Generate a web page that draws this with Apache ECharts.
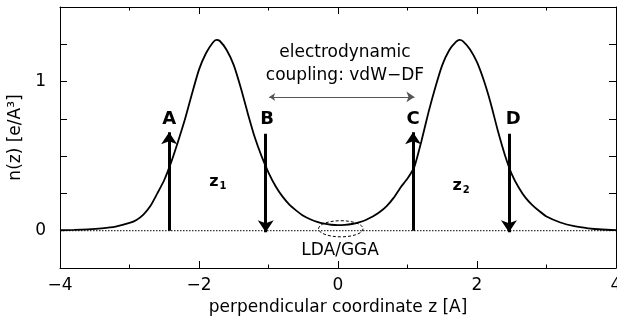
<!DOCTYPE html>
<html><head><meta charset="utf-8">
<script src="https://cdn.jsdelivr.net/npm/echarts@6/dist/echarts.min.js"></script>
<style>html,body{margin:0;padding:0;background:#fff}#c{width:617px;height:320px}</style>
</head><body><div id="c"></div>
<script>
// density profile n(z)
const zValues = [-4.0,-3.8,-3.6,-3.4,-3.2,-3.0,-2.9,-2.8,-2.7,-2.6,-2.5,-2.4,-2.3,-2.2,-2.1,-2.0,-1.9,-1.8,-1.75,-1.7,-1.6,-1.5,-1.4,-1.3,-1.2,-1.1,-1.0,-0.9,-0.8,-0.7,-0.6,-0.5,-0.4,-0.3,-0.2,-0.1,0,
  0.1,0.2,0.3,0.4,0.5,0.6,0.7,0.8,0.9,1.0,1.1,1.2,1.3,1.4,1.5,1.6,1.7,1.75,1.8,1.9,2.0,2.1,2.2,2.3,2.4,2.5,2.6,2.7,2.8,2.9,3.0,3.2,3.4,3.6,3.8,4.0];
const nValues = [0.003,0.005,0.009,0.016,0.028,0.052,0.072,0.108,0.165,0.25,0.34,0.46,0.60,0.75,0.92,1.08,1.19,1.262,1.28,1.272,1.21,1.11,0.96,0.79,0.63,0.50,0.39,0.30,0.23,0.175,0.135,0.10,0.077,0.059,0.047,0.040,0.037,
  0.039,0.045,0.056,0.072,0.095,0.125,0.165,0.22,0.29,0.35,0.43,0.60,0.79,0.96,1.11,1.21,1.268,1.28,1.27,1.215,1.13,1.005,0.85,0.67,0.51,0.38,0.29,0.22,0.17,0.13,0.095,0.055,0.03,0.016,0.008,0.004];
const baseline = [[-4, 0], [4, 0]];

// vertical arrows A-D
const arrowNames = ['A', 'B', 'C', 'D'];
const arrowZ = [-2.43, -1.04, 1.08, 2.46];
const arrowFrom = [0, 0.65, 0, 0.65];
const arrowTo = [0.66, -0.01, 0.66, -0.01];
const letterZ = [-2.43, -1.02, 1.08, 2.52];
const letterN = [0.745, 0.745, 0.745, 0.745];

// horizontal coupling arrow
const couplingFrom = [-0.99, 0.897];
const couplingTo = [1.10, 0.897];

// text annotations [z, n]
const couplingTextPos = [0.1, 1.12];
const couplingText = 'electrodynamic\ncoupling: vdW\u2212DF';
const ldaTextPos = [0.03, -0.13];
const ldaText = 'LDA/GGA';
const zLabelPos = [[-1.73, 0.325], [1.77, 0.30]];
const zLabelIdx = ['1', '2'];

// dashed ellipse [cz, cn, rz, rn]
const ellipse = [0.04, 0.013, 0.32, 0.054];

const FONT = 'DejaVu Sans';
const minus = v => (v < 0 ? '\u2212' + (-v) : String(v));

const axisCommonX = {
  type: 'value', min: -4, max: 4, interval: 2,
  axisLine: { show: true, onZero: false, lineStyle: { color: '#000', width: 1 } },
  axisTick: { show: true, inside: true, length: 7, lineStyle: { color: '#000' } },
  minorTick: { show: true, splitNumber: 2, length: 3.5, lineStyle: { color: '#000' } },
  splitLine: { show: false }, minorSplitLine: { show: false }
};
const axisCommonY = {
  type: 'value', min: -0.25, max: 1.5, interval: 0.25,
  axisLine: { show: true, onZero: false, lineStyle: { color: '#000', width: 1 } },
  axisTick: { show: true, inside: true, length: 7, lineStyle: { color: '#000' } },
  splitLine: { show: false }
};
const annoItem = { opacity: 1, color: '#000' };

const chart = echarts.init(document.getElementById('c'), null, { renderer: 'canvas' });
chart.setOption({
  animation: false,
  backgroundColor: '#fff',
  grid: { left: 60, right: 1, top: 7, bottom: 52, containLabel: false, outerBoundsMode: 'none' },
  xAxis: [
    Object.assign({}, axisCommonX, {
      position: 'bottom',
      axisLabel: { formatter: minus, color: '#000', fontSize: 17, fontFamily: FONT, margin: 9, showMinLabel: true, showMaxLabel: true },
      name: 'perpendicular coordinate z [A]', nameLocation: 'middle', nameGap: 31,
      nameTextStyle: { color: '#000', fontSize: 17, fontFamily: FONT }
    }),
    Object.assign({}, axisCommonX, { position: 'top', axisLabel: { show: false } })
  ],
  yAxis: [
    Object.assign({}, axisCommonY, {
      position: 'left',
      axisLabel: { formatter: v => (v === 0 ? '0' : v === 1 ? '1' : ''), color: '#000', fontSize: 17, fontFamily: FONT, margin: 14 },
      name: 'n(z) [e/A\u00b3]', nameLocation: 'middle', nameGap: 27, nameRotate: 90,
      nameTextStyle: { color: '#000', fontSize: 17, fontFamily: FONT }
    }),
    Object.assign({}, axisCommonY, { position: 'right', axisLabel: { show: false } })
  ],
  series: [
    {
      type: 'line', xAxisIndex: 0, yAxisIndex: 0, data: baseline, showSymbol: false, silent: true,
      lineStyle: { color: '#000', width: 1, type: [1.5, 1.5] }, z: 1
    },
    {
      type: 'line', data: zValues.map((z, i) => [z, nValues[i]]), showSymbol: false, silent: true,
      lineStyle: { color: '#000', width: 1.8 }, smooth: 0.2, z: 3
    },
    {
      type: 'custom', silent: true, z: 2,
      data: [ellipse],
      encode: { x: 0, y: 1 },
      renderItem: (params, api) => {
        const c = api.coord([api.value(0), api.value(1)]);
        const s = api.size([api.value(2), api.value(3)]);
        return { type: 'ellipse', shape: { cx: c[0], cy: c[1], rx: s[0], ry: s[1] },
          style: { fill: 'none', stroke: '#000', lineWidth: 1, lineDash: [3, 2] } };
      }
    },
    {
      type: 'lines', coordinateSystem: 'cartesian2d', silent: true, z: 4,
      symbol: ['none', 'arrow'], symbolSize: [11, 12],
      lineStyle: { color: '#000', width: 3, opacity: 1 },
      data: arrowZ.map((z, i) => ({ coords: [[z, arrowFrom[i]], [z, arrowTo[i]]] }))
    },
    {
      type: 'lines', coordinateSystem: 'cartesian2d', silent: true, z: 4,
      symbol: ['arrow', 'arrow'], symbolSize: [6, 8],
      lineStyle: { color: '#555', width: 1, opacity: 1 },
      itemStyle: { color: '#555' },
      data: [{ coords: [couplingFrom, couplingTo] }]
    },
    {
      type: 'scatter', silent: true, symbolSize: 0, z: 5, itemStyle: annoItem,
      data: letterZ.map((z, i) => ({ value: [z, letterN[i]], name: arrowNames[i] })),
      label: { show: true, position: 'inside', formatter: p => p.name, color: '#000', fontSize: 18, fontWeight: 'bold', fontFamily: FONT }
    },
    {
      type: 'scatter', silent: true, symbolSize: 0, z: 5, itemStyle: annoItem,
      data: zLabelPos.map((p, i) => ({ value: p, name: zLabelIdx[i] })),
      label: { show: true, position: 'inside', formatter: p => '{a|z}{b|' + p.name + '}',
        rich: {
          a: { fontSize: 16, fontWeight: 'bold', fontFamily: FONT, color: '#000' },
          b: { fontSize: 10, fontWeight: 'bold', fontFamily: FONT, color: '#000', padding: [9, 0, 0, 1] }
        } }
    },
    {
      type: 'scatter', silent: true, symbolSize: 0, z: 5, itemStyle: annoItem,
      data: [{ value: couplingTextPos, name: couplingText }, { value: ldaTextPos, name: ldaText }],
      label: { show: true, position: 'inside', formatter: p => p.name, color: '#000', fontSize: 17, fontFamily: FONT, lineHeight: 23, align: 'center' }
    }
  ]
});
</script>
</body></html>
